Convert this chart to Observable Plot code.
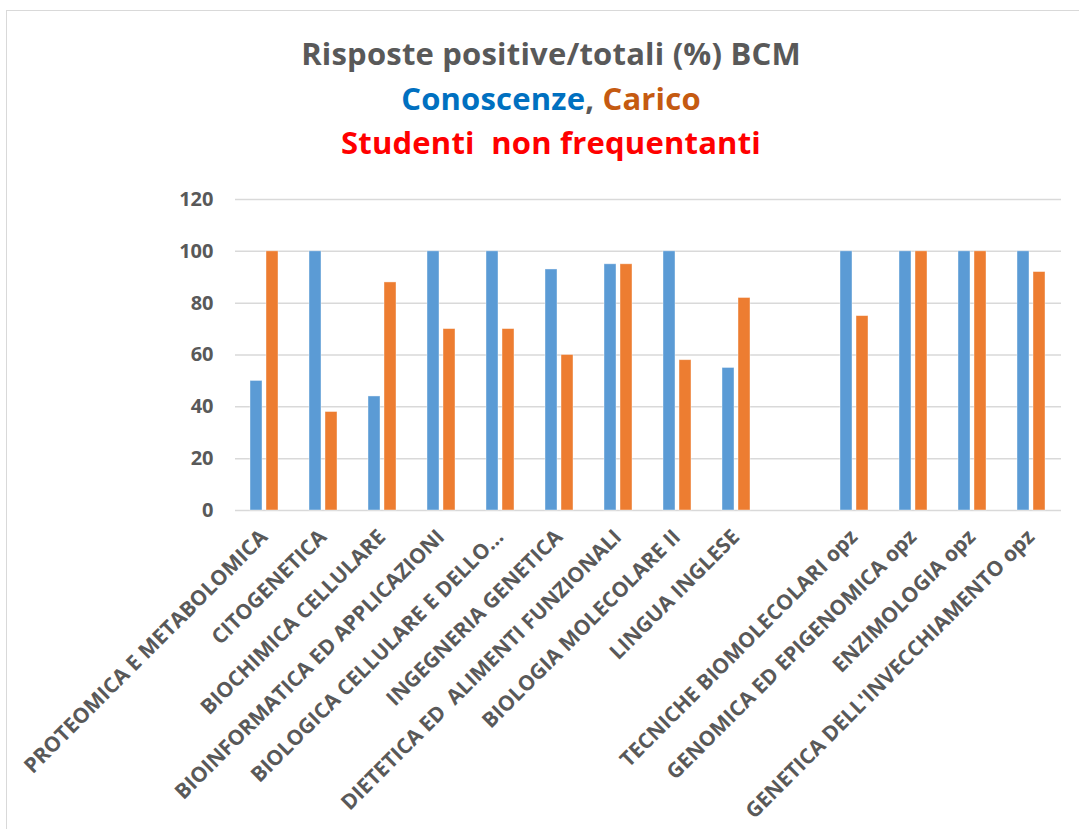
<!DOCTYPE html>
<html>
<head>
<meta charset="utf-8">
<script src="https://cdn.jsdelivr.net/npm/d3@7"></script>
<script src="https://cdn.jsdelivr.net/npm/@observablehq/plot@0.6"></script>
<style>
  html, body { margin: 0; padding: 0; background: #fff; }
  #page { position: relative; width: 1079px; height: 829px; overflow: hidden; background: #fff; }
  #frame { position: absolute; left: 6px; top: 10px; width: 1200px; height: 900px; border: 1.5px solid #d9d9d9; }
  .title { position: absolute; left: 0; width: 1102px; text-align: center; font-family: "Open Sans", sans-serif; font-weight: 700; font-size: 31px; line-height: 40px; white-space: pre; letter-spacing: 0.2px; }
  #chart { position: absolute; left: 0; top: 160px; }
  #chart svg text { white-space: pre; font-family: "Open Sans", sans-serif; }
</style>
</head>
<body>
<div id="page">
  <div id="frame"></div>
  <div class="title" style="top:33px;color:#595959">Risposte positive/totali (%) BCM</div>
  <div class="title" style="top:78px;color:#595959"><span style="color:#0070C0">Conoscenze</span>, <span style="color:#C55A11">Carico</span></div>
  <div class="title" style="top:122px;color:#FF0000">Studenti  non frequentanti</div>
  <div id="chart"></div>
</div>
<script>
const categories = [
  "PROTEOMICA E METABOLOMICA",
  "CITOGENETICA",
  "BIOCHIMICA CELLULARE",
  "BIOINFORMATICA ED APPLICAZIONI",
  "BIOLOGICA CELLULARE E DELLO...",
  "INGEGNERIA GENETICA",
  "DIETETICA ED  ALIMENTI FUNZIONALI",
  "BIOLOGIA MOLECOLARE II",
  "LINGUA INGLESE",
  "",
  "TECNICHE BIOMOLECOLARI opz",
  "GENOMICA ED EPIGENOMICA opz",
  "ENZIMOLOGIA opz",
  "GENETICA DELL'INVECCHIAMENTO opz"
];
const series = ["Conoscenze", "Carico"];
const conoscenze = [50, 100, 44, 100, 100, 93, 95, 100, 55, null, 100, 100, 100, 100];
const carico     = [100, 38, 88, 70, 70, 60, 95, 58, 82, null, 75, 100, 100, 92];
const yTicks = [0, 20, 40, 60, 80, 100, 120];
const colors = ["#5B9BD5", "#ED7D31"];

// keep the empty category (null values) so its facet still exists
const rows = categories.flatMap((c, i) => [
  {cat: c, serie: series[0], v: conoscenze[i]},
  {cat: c, serie: series[1], v: carico[i]}
]);

const chart = Plot.plot({
  width: 1079,
  height: 669,
  marginTop: 39,
  marginBottom: 319,
  marginLeft: 234,
  marginRight: 17,
  style: {fontFamily: "'Open Sans', sans-serif", background: "transparent"},
  fx: {domain: categories, padding: 0},
  x: {domain: series, paddingInner: 0.235, paddingOuter: 0.856, axis: null},
  y: {domain: [0, 120]},
  color: {domain: series, range: colors},
  marks: [
    Plot.ruleY(yTicks, {stroke: "#d9d9d9", strokeWidth: 1.5}),
    Plot.barY(rows, {fx: "cat", x: "serie", y: "v", fill: "serie", stroke: "#ffffff", strokeOpacity: 0.5, strokeWidth: 0.8}),
    Plot.axisY({ticks: yTicks, tickSize: 0, tickPadding: 22, fontSize: 20, fontWeight: "bold", fill: "#595959", label: null, facetAnchor: "left"}),
    Plot.axisFx({anchor: "bottom", tickRotate: -45, tickSize: 0, tickPadding: 23, dx: -1, fontSize: 21, fontWeight: "bold", fill: "#595959", label: null})
  ]
});
document.getElementById("chart").appendChild(chart);
</script>
</body>
</html>
